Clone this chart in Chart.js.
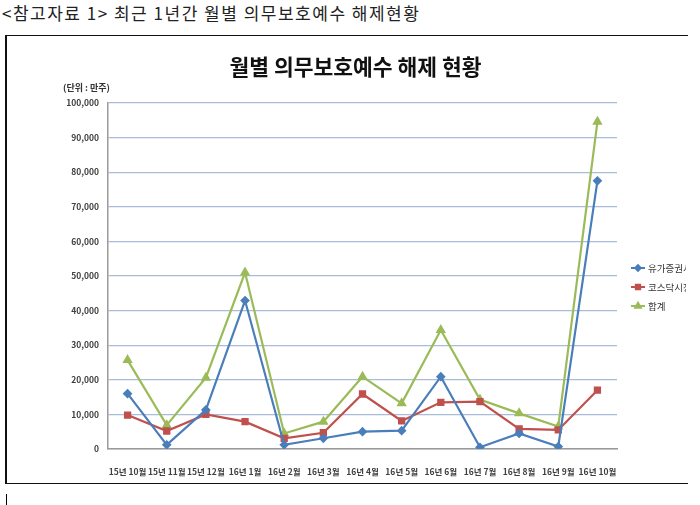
<!DOCTYPE html>
<html>
<head>
<meta charset="utf-8">
<script src="https://cdn.jsdelivr.net/npm/chart.js@4"></script>
<style>
  body { margin: 0; background: #fff; width: 700px; height: 505px; position: relative; overflow: hidden; }
  #header { position: absolute; left: 2px; top: 0px; font-family: "Noto Sans CJK KR", sans-serif; font-size: 17px; letter-spacing: 1.5px; color: #222; white-space: nowrap; }
  #box { position: absolute; left: 5px; top: 35px; width: 681px; height: 447px; border-left: 2px solid #111; border-top: 1px solid #111; border-bottom: 1px solid #111; }
  #chart { position: absolute; left: 7px; top: 37px; }
  #cursor { position: absolute; left: 6px; top: 494px; width: 1px; height: 11px; background: #000; }
</style>
</head>
<body>
<div id="header">&lt;참고자료 1&gt; 최근 1년간 월별 의무보호예수 해제현황</div>
<div id="box"></div>
<canvas id="chart" width="679" height="445"></canvas>
<div id="cursor"></div>
<script>
// Categories (months)
const months = ['15년 10월', '15년 11월', '15년 12월', '16년 1월', '16년 2월', '16년 3월', '16년 4월',
                '16년 5월', '16년 6월', '16년 7월', '16년 8월', '16년 9월', '16년 10월'];

// Series values, unit: 만주
const kospi = [16000, 1200, 11300, 42900, 1200, 3100, 5000, 5300, 20900, 500, 4500, 700, 77500];
const kosdaq = [9800, 5200, 10000, 7900, 3100, 4700, 15900, 8100, 13500, 13700, 5800, 5500, 17000];
const total = [25700, 6900, 20600, 51000, 4500, 7900, 20900, 13200, 34400, 14300, 10300, 6500, 94600];

const seriesNames = ['유가증권시장', '코스닥시장', '합계'];
const chartTitle = '월별 의무보호예수 해제 현황';

const tickFont = { family: '"Noto Sans CJK KR", sans-serif', size: 8.5, weight: 'bold' };

// Draws the title, the unit label and the (clipped) legend at the right side
const extrasPlugin = {
    id: 'extras',
    afterDraw(chart) {
        const ctx = chart.ctx;
        const area = chart.chartArea;
        ctx.save();
        ctx.textBaseline = 'middle';
        ctx.textAlign = 'center';
        ctx.fillStyle = '#111';
        ctx.font = 'bold 21.5px "Noto Sans CJK KR", sans-serif';
        ctx.fillText(chartTitle, chart.width / 2 + 9, 30);

        ctx.textAlign = 'left';
        ctx.font = 'bold 9px "Noto Sans CJK KR", sans-serif';
        ctx.fillStyle = '#333';
        ctx.fillText('(단위 : 만주)', area.left - 45, area.top - 15);

        const midY = (area.top + area.bottom) / 2;
        chart.data.datasets.forEach((ds, i) => {
            const y = midY - 8 + i * 19;
            const x0 = area.right + 14;
            ctx.strokeStyle = ds.borderColor;
            ctx.lineWidth = 2;
            ctx.beginPath();
            ctx.moveTo(x0, y);
            ctx.lineTo(x0 + 14, y);
            ctx.stroke();
            Chart.helpers.drawPoint(ctx, {
                pointStyle: ds.pointStyle,
                radius: ds.pointRadius - 0.5,
                borderWidth: 1
            }, x0 + 7, y);
            ctx.fillStyle = ds.pointBackgroundColor;
            ctx.fill();
            ctx.fillStyle = '#333';
            ctx.font = '9.5px "Noto Sans CJK KR", sans-serif';
            ctx.fillText(ds.label, x0 + 17, y);
        });
        ctx.restore();
    }
};

const ctx = document.getElementById('chart').getContext('2d');
new Chart(ctx, {
    type: 'line',
    data: {
        labels: months,
        datasets: [
            { label: seriesNames[0], data: kospi, borderColor: '#4a7ebb', backgroundColor: '#4a7ebb',
              pointBackgroundColor: '#4a7ebb', pointBorderColor: '#4a7ebb', pointStyle: 'rectRot', pointRadius: 3.3, borderWidth: 2.2 },
            { label: seriesNames[1], data: kosdaq, borderColor: '#c0504d', backgroundColor: '#c0504d',
              pointBackgroundColor: '#c0504d', pointBorderColor: '#c0504d', pointStyle: 'rect', pointRadius: 3.6, borderWidth: 2.2 },
            { label: seriesNames[2], data: total, borderColor: '#9bbb59', backgroundColor: '#9bbb59',
              pointBackgroundColor: '#9bbb59', pointBorderColor: '#9bbb59', pointStyle: 'triangle', pointRadius: 3.8, borderWidth: 2.2 }
        ]
    },
    options: {
        responsive: false,
        animation: false,
        layout: { padding: { left: 0, right: 69, top: 66, bottom: 0 } },
        plugins: {
            legend: { display: false },
            tooltip: { enabled: false },
            title: { display: false }
        },
        scales: {
            x: {
                offset: true,
                grid: { display: false },
                border: { display: true, color: '#9a9a9a', width: 1.5 },
                ticks: { color: '#404040', font: tickFont, padding: 10, maxRotation: 0, autoSkip: false },
                afterFit(scale) { scale.height = 33; }
            },
            y: {
                min: 0,
                max: 100000,
                ticks: {
                    stepSize: 10000,
                    color: '#404040',
                    font: tickFont,
                    padding: 9,
                    callback: v => v.toLocaleString('en-US')
                },
                grid: { color: '#a9bcd9', lineWidth: 1.2, drawTicks: false },
                border: { display: true, color: '#9a9a9a', width: 1.5 },
                afterFit(scale) { scale.width = 101; }
            }
        }
    },
    plugins: [extrasPlugin]
});
</script>
</body>
</html>
